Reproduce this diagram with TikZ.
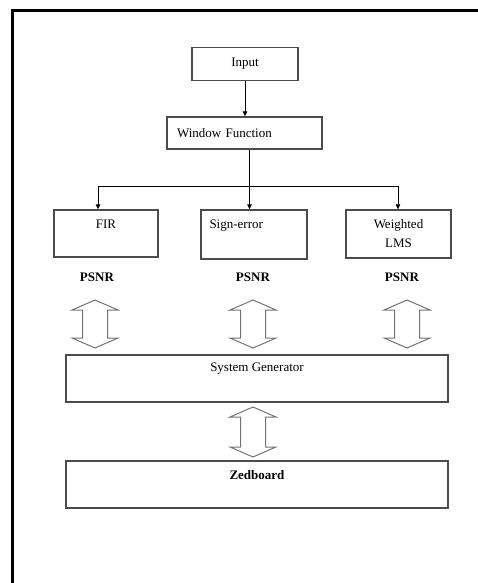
\documentclass[tikz,border=0pt]{standalone}
\usepackage{fontspec}
\setmainfont{Liberation Serif}
\usetikzlibrary{arrows.meta}

\begin{document}
\begin{tikzpicture}[x=1pt,y=-1pt,
    font=\fontsize{13}{19}\selectfont,
    box/.style={draw=black!70,line width=1.4pt,inner sep=0pt},
    lbl/.style={anchor=north,inner sep=0pt,yshift=-10pt},
    tip/.style={-{Triangle[length=5pt,width=4.5pt]},line width=0.9pt},
    hollow/.style={draw=black!55,line width=1pt,line join=miter}]
    \useasboundingbox (0,0) rectangle (478,583);
    % outer frame (top and left only)
    \draw[line width=2.2pt] (478,10.5) -- (12.5,10.5) -- (12.5,583);

    \node[box,minimum width=106,minimum height=33] (input) at (245,64) {Input};
    \node[box,minimum height=32,text width=135pt,align=left,inner xsep=10pt] (window) at (244.5,133) {Window Function};

    \node[box,minimum width=104,minimum height=47,label={[lbl]north:FIR}] (fir) at (106,233.5) {};
    \node[box,minimum width=106,minimum height=49,
      label={[lbl,anchor=north west,xshift=9pt]north west:Sign-error}] (sign) at (254,234.5) {};
    \node[box,minimum width=105,minimum height=48,
      label={[lbl,align=center]north:Weighted\\LMS}] (wlms) at (398.5,234) {};

    \node (psnr1) at (97,277) {\textbf{PSNR}};
    \node (psnr2) at (253,277) {\textbf{PSNR}};
    \node (psnr3) at (402,277) {\textbf{PSNR}};

    \node[box,minimum width=382,minimum height=47,
      label={[lbl,yshift=2pt]north:System Generator}] (sysgen) at (257,378.5) {};
    \node[box,minimum width=382,minimum height=47,
      label={[lbl]north:\textbf{Zedboard}}] (zed) at (257,484.5) {};

    % connectors
    \coordinate (split) at (249.5,186);
    \coordinate (lft) at (98,186);
    \coordinate (rgt) at (398,186);
    \draw[tip] (input.south) -- (input.south |- window.north);
    \draw[line width=0.9pt] (window.south -| split) -- (split);
    \draw[line width=0.9pt] (lft) -- (rgt);
    \draw[tip] (split) -- (split |- sign.north);
    \draw[tip] (lft) -- (lft |- fir.north);
    \draw[tip,line width=0.6pt] (rgt) -- (rgt |- wlms.north);

    % hollow double arrows
    \foreach \cx/\cy/\h in {95/324/24, 253/324/24, 407/324/24, 253/432/25}
      \draw[hollow] (\cx,\cy-\h) -- ++(23,10) -- ++(-10.5,0) -- (\cx+12.5,\cy+\h-10)
        -- ++(10.5,0) -- (\cx,\cy+\h) -- ++(-23,-10) -- ++(10.5,0)
        -- (\cx-12.5,\cy-\h+10) -- ++(-10.5,0) -- cycle;
\end{tikzpicture}
\end{document}
